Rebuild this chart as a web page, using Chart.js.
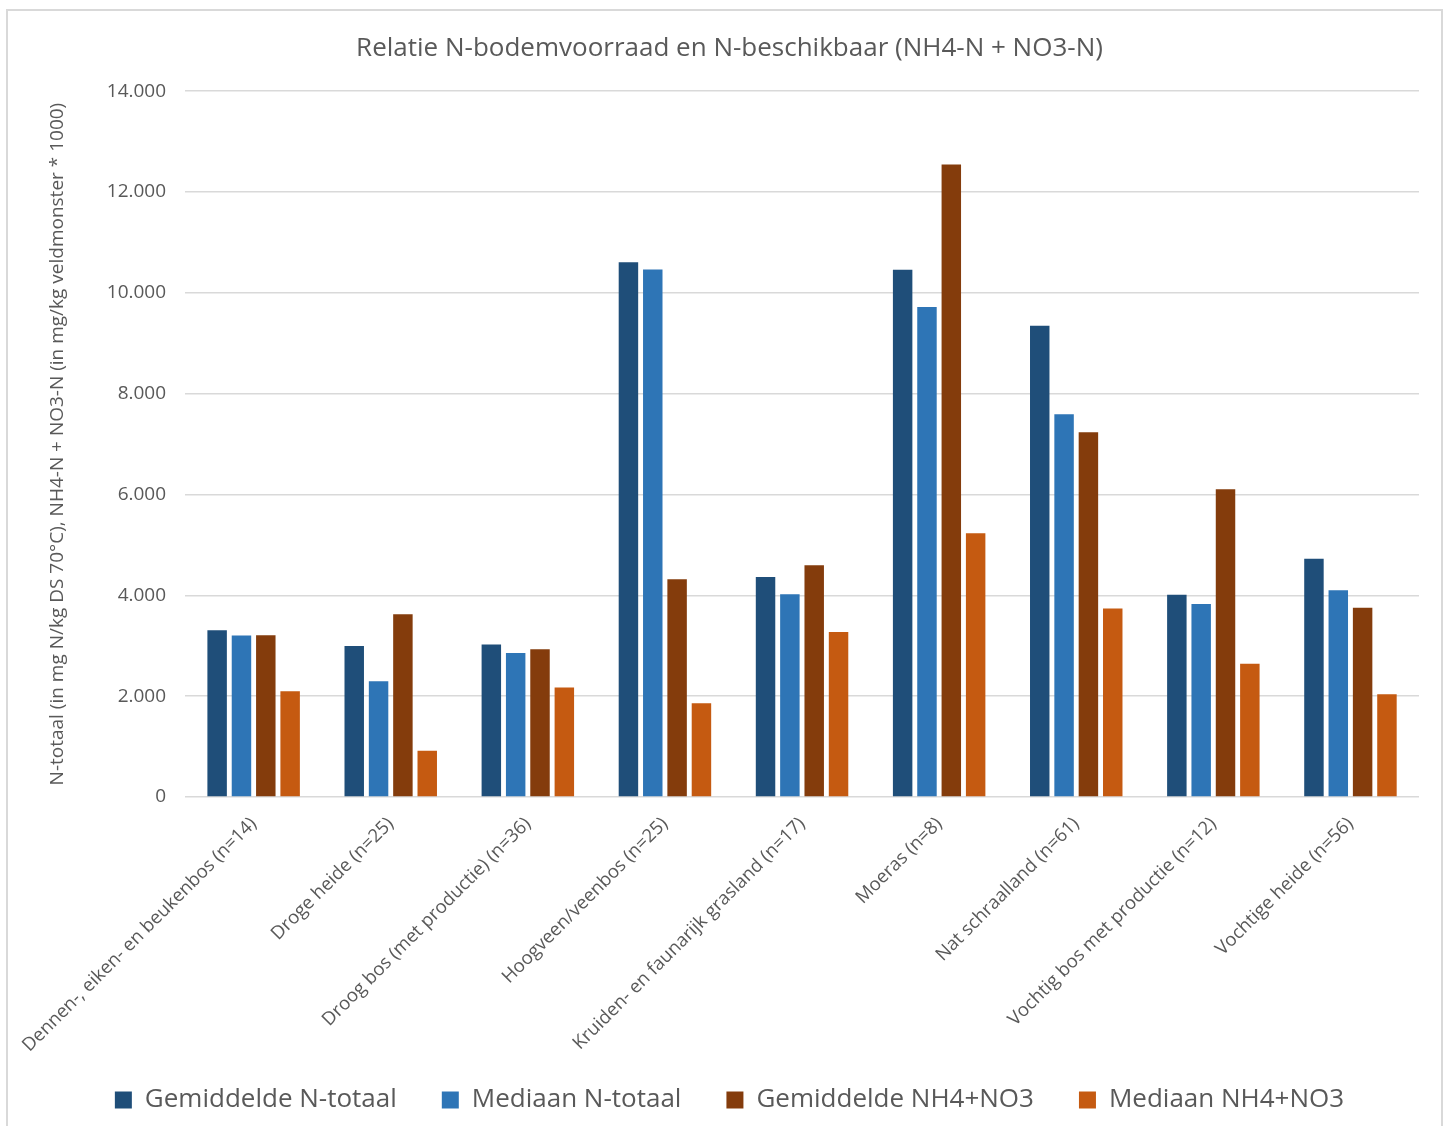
<!DOCTYPE html>
<html>
<head>
<meta charset="utf-8">
<script src="https://cdn.jsdelivr.net/npm/chart.js@4/dist/chart.umd.min.js"></script>
<style>
    html, body { margin: 0; padding: 0; background: #ffffff; }
    #frame {
        position: absolute;
        left: 6px;
        top: 9px;
        width: 1437px;
        height: 1130px;
        border: 2px solid #d9d9d9;
        box-sizing: border-box;
    }
    #chart-box { position: absolute; left: 0; top: 0; width: 1433px; height: 1126px; }
</style>
</head>
<body>
<div id="frame">
    <div id="chart-box"><canvas id="relatieChart"></canvas></div>
</div>
<script>
// Chart data
const categories = [
    'Dennen-, eiken- en beukenbos (n=14)',
    'Droge heide (n=25)',
    'Droog bos (met productie) (n=36)',
    'Hoogveen/veenbos (n=25)',
    'Kruiden- en faunarijk grasland (n=17)',
    'Moeras (n=8)',
    'Nat schraalland (n=61)',
    'Vochtig bos met productie (n=12)',
    'Vochtige heide (n=56)'
];
const gemiddeldeNTotaal = [3307, 2997, 3023, 10607, 4363, 10460, 9349, 4013, 4728];
const mediaanNTotaal = [3201, 2297, 2858, 10462, 4020, 9717, 7590, 3828, 4099];
const gemiddeldeNH4NO3 = [3208, 3624, 2931, 4317, 4595, 12545, 7236, 6106, 3755];
const mediaanNH4NO3 = [2099, 917, 2172, 1861, 3272, 5231, 3738, 2642, 2040];
const yTicks = [0, 2000, 4000, 6000, 8000, 10000, 12000, 14000];

const FONT = "'Open Sans', 'Noto Sans', sans-serif";
const TEXT_GREY = '#595959';

// thousands separator as in the Dutch original (14.000)
function formatNl(v) {
    return String(v).replace(/\B(?=(\d{3})+(?!\d))/g, '.');
}

// the rotated category labels run down behind the legend area,
// so pull the legend up a bit after layout instead of shrinking the axis box
const legendLift = {
    id: 'legendLift',
    afterLayout: function(chart) {
        if (chart.legend) {
            chart.legend.top -= 20;
            chart.legend.bottom -= 20;
        }
    }
};

document.addEventListener('DOMContentLoaded', function() {
    const ctx = document.getElementById('relatieChart').getContext('2d');

    new Chart(ctx, {
        type: 'bar',
        data: {
            labels: categories,
            datasets: [
                { label: 'Gemiddelde N-totaal', data: gemiddeldeNTotaal, backgroundColor: '#1f4e79' },
                { label: 'Mediaan N-totaal', data: mediaanNTotaal, backgroundColor: '#2e75b6' },
                { label: 'Gemiddelde NH4+NO3', data: gemiddeldeNH4NO3, backgroundColor: '#843c0c' },
                { label: 'Mediaan NH4+NO3', data: mediaanNH4NO3, backgroundColor: '#c55a11' }
            ]
        },
        plugins: [legendLift],
        options: {
            responsive: true,
            maintainAspectRatio: false,
            animation: false,
            datasets: {
                bar: {
                    categoryPercentage: 0.71,
                    barPercentage: 0.8
                }
            },
            layout: {
                padding: { left: 32, right: 22, top: 0, bottom: -6 }
            },
            plugins: {
                title: {
                    display: true,
                    text: 'Relatie N-bodemvoorraad en N-beschikbaar (NH4-N + NO3-N)',
                    color: TEXT_GREY,
                    font: { family: FONT, size: 26, weight: 'normal' },
                    padding: { top: 22, bottom: 27 }
                },
                legend: {
                    position: 'bottom',
                    labels: {
                        color: TEXT_GREY,
                        font: { family: FONT, size: 26 },
                        boxWidth: 17,
                        boxHeight: 17,
                        padding: 45
                    }
                },
                tooltip: { enabled: false }
            },
            scales: {
                x: {
                    grid: { display: false },
                    border: { display: false },
                    ticks: {
                        color: TEXT_GREY,
                        font: { family: FONT, size: 18.5 },
                        autoSkip: false,
                        minRotation: 45,
                        maxRotation: 45,
                        padding: 8
                    },
                    afterFit: function(scale) { scale.height = 265; }
                },
                y: {
                    min: 0,
                    max: 14000,
                    afterBuildTicks: function(scale) {
                        scale.ticks = yTicks.map(v => ({ value: v }));
                    },
                    grid: { color: '#d9d9d9', lineWidth: 1.5, drawTicks: false },
                    border: { display: false },
                    ticks: {
                        color: TEXT_GREY,
                        font: { family: FONT, size: 19 },
                        padding: 19,
                        callback: function(value) { return formatNl(value); }
                    },
                    title: {
                        display: true,
                        text: 'N-totaal (in mg N/kg DS 70°C), NH4-N + NO3-N (in mg/kg veldmonster * 1000)',
                        color: TEXT_GREY,
                        font: { family: FONT, size: 19 },
                        padding: { top: 6, bottom: 0 }
                    },
                    afterFit: function(scale) { scale.width = 145; }
                }
            }
        }
    });
});
</script>
</body>
</html>
